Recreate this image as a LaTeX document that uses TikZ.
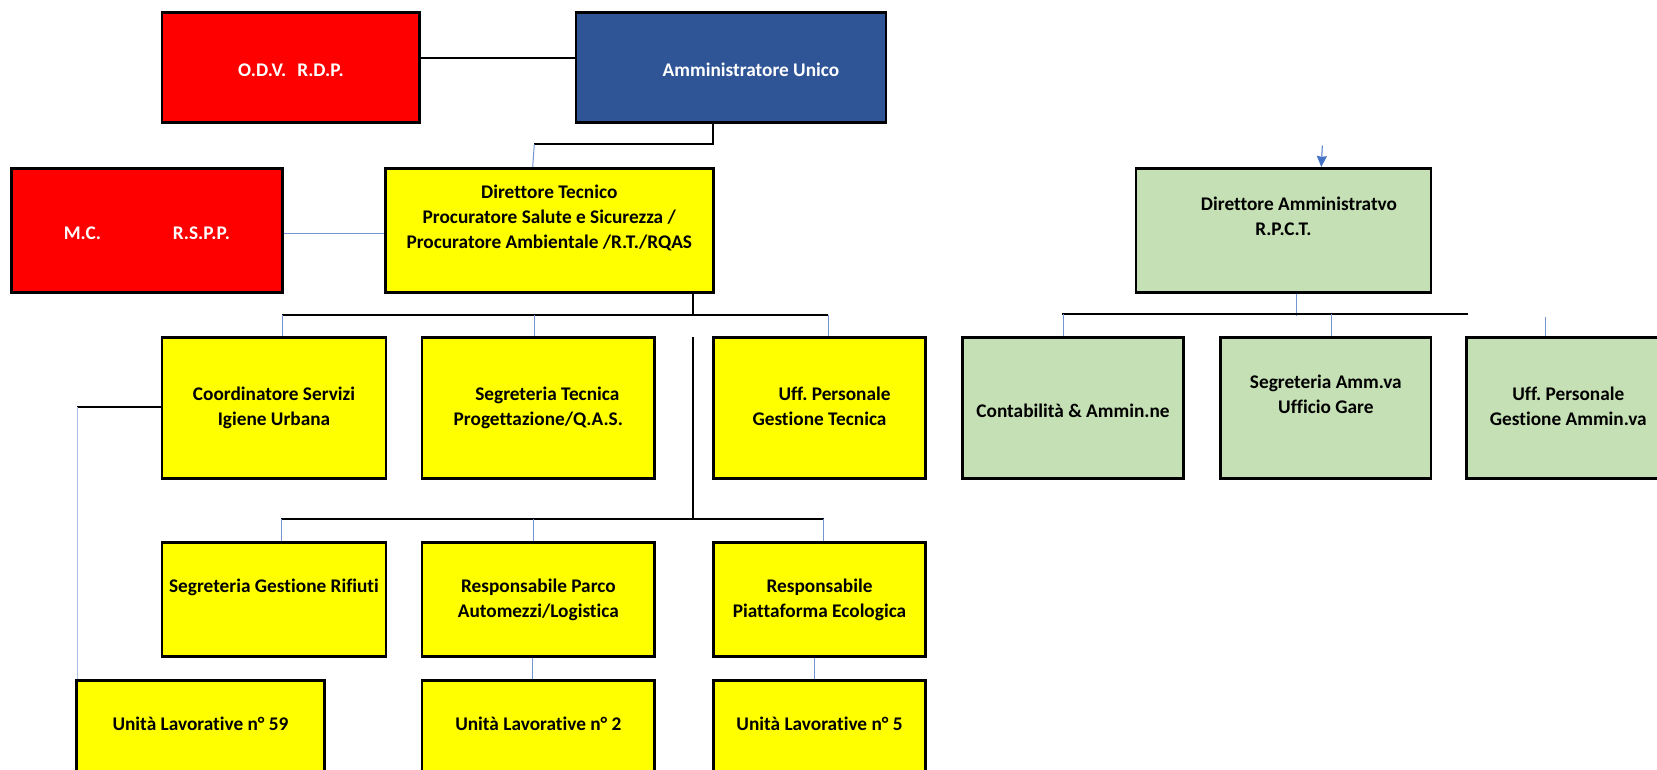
\documentclass[tikz,border=0pt]{standalone}
\usepackage{fontspec}
\setmainfont{Carlito}[Ligatures=NoCommon]
\usetikzlibrary{arrows.meta}
\definecolor{rosso}{RGB}{255,0,0}
\definecolor{bluscuro}{RGB}{47,85,151}
\definecolor{giallo}{RGB}{255,255,0}
\definecolor{verde}{RGB}{197,224,180}
\definecolor{linea}{RGB}{68,114,196}
\newcommand{\puntello}{\vrule height 22pt depth 3pt width 0pt}
\frenchspacing

\begin{document}
\begin{tikzpicture}[x=1pt,y=-1pt,
    box/.style={draw, line width=2.7pt, rectangle, inner sep=0pt, align=center,
        font=\fontsize{19.3}{25}\selectfont\bfseries,
        execute at begin node=\puntello, execute at end node=\puntello},
    rossa/.style={box, fill=rosso, text=white},
    gialla/.style={box, fill=giallo},
    verdina/.style={box, fill=verde},
    riga/.style={minimum height=141.2pt},
    bassa/.style={minimum height=114.4pt},
    conn/.style={line width=2.1pt},
    thinb/.style={linea!75, line width=1pt}]
    \useasboundingbox(0,0)rectangle(1657,769);
    \clip(0,0)rectangle(1657,769);

    \node[rossa, minimum width=257.7pt, minimum height=110pt](odv) at (290.9,67.3){O.D.V.\hspace{11pt}R.D.P.};
    \node[box, fill=bluscuro, text=white, minimum width=310pt, minimum height=110pt](amm) at (731,67.3){\hspace*{40pt}Amministratore Unico};
    \node[rossa, minimum width=270.8pt, minimum height=124pt](mc) at (146.9,230.3){M.C.\hspace{72pt}R.S.P.P.};
    \node[gialla, minimum width=328pt, minimum height=124pt](dt) at (549.3,230.3){Direttore Tecnico\\Procuratore Salute e Sicurezza /\\Procuratore Ambientale /R.T./RQAS\\};
    \node[verdina, minimum width=295pt, minimum height=124pt](dam) at (1283.5,230.3){\hspace*{31pt}Direttore Amministratvo\\R.P.C.T.\\};

    \node[gialla, riga, minimum width=224pt](coord) at (274,407.9){Coordinatore Servizi\\Igiene Urbana};
    \node[gialla, riga, minimum width=232.7pt](segtec) at (538.35,407.9){\hspace*{18pt}Segreteria Tecnica\\Progettazione/Q.A.S.};
    \node[gialla, riga, minimum width=212.4pt](uffpt) at (819.5,407.9){\hspace*{30pt}Uff. Personale\\Gestione Tecnica};
    \node[verdina, riga, minimum width=221.3pt](cont) at (1073,407.9){Contabilità \& Ammin.ne};
    \node[verdina, riga, minimum width=210.3pt](segamm) at (1325.85,407.9){Segreteria Amm.va\\Ufficio Gare\\};
    \node[verdina, riga, minimum width=203.2pt](uffpa) at (1568.3,407.9){Uff. Personale\\Gestione Ammin.va};

    \node[gialla, bassa, minimum width=224pt](segrif) at (274,599.5){Segreteria Gestione Rifiuti\\};
    \node[gialla, bassa, minimum width=232.7pt](parco) at (538.35,599.5){Responsabile Parco\\Automezzi/Logistica};
    \node[gialla, bassa, minimum width=212.4pt](piatt) at (819.5,599.5){Responsabile\\Piattaforma Ecologica};

    \node[gialla, bassa, minimum width=247.6pt](ul59) at (200.5,737.85){Unità Lavorative n° 59\\};
    \node[gialla, bassa, minimum width=232.7pt](ul2) at (538.35,737.85){Unità Lavorative n° 2\\};
    \node[gialla, bassa, minimum width=212.4pt](ul5) at (819.5,737.85){Unità Lavorative n° 5\\};

    \draw[conn](odv.east|-0,58)--(amm.west|-0,58);
    \draw[conn](amm.south-|712.7,0)|-(534.3,144.3)coordinate(k1);
    \draw[thinb](k1)--(dt.north-|532.7,0);
    \draw[thinb](mc.east|-0,233)--(dt.west|-0,233);

    \draw[conn](dt.south-|693.3,0)--(693.3,315);
    \draw[conn](282,315)--(828,315);
    \foreach \n/\x in {coord/282,segtec/534,uffpt/828}
        \draw[thinb](\x,315)--(\n.north-|\x,0);
    \draw[conn](693.3,337.3)--(693.3,518.7);
    \draw[conn](281,518.7)--(824,518.7);
    \foreach \n/\x in {segrif/281,parco/533,piatt/823.3}
        \draw[thinb](\x,518.7)--(\n.north-|\x,0);

    \draw[conn](coord.west|-0,406.7)--(77.3,406.7)coordinate(k3);
    \draw[thinb, linea!45, line width=1.6pt](k3)--(k3|-ul59.north);
    \draw[thinb](parco.south-|532.7,0)--(ul2.north-|532.7,0);
    \draw[thinb](piatt.south-|814.3,0)--(ul5.north-|814.3,0);

    \coordinate(k4) at (1322.3,145.7);
    \draw[thinb, linea, -{Stealth[length=11pt,width=10pt,inset=1pt]}](k4)--(dam.north-|1321.3,0);
    \draw[thinb](dam.south-|1296.7,0)--(1296.7,315.7);
    \draw[conn](1062,314.3)--(1467.7,314.3);
    \foreach \n/\x in {cont/1063,segamm/1331.7}
        \draw[thinb](\x,314.3)--(\n.north-|\x,0);
    \coordinate(k5) at (1545,316.7);
    \draw[thinb](k5)--(uffpa.north-|k5);
\end{tikzpicture}
\end{document}
